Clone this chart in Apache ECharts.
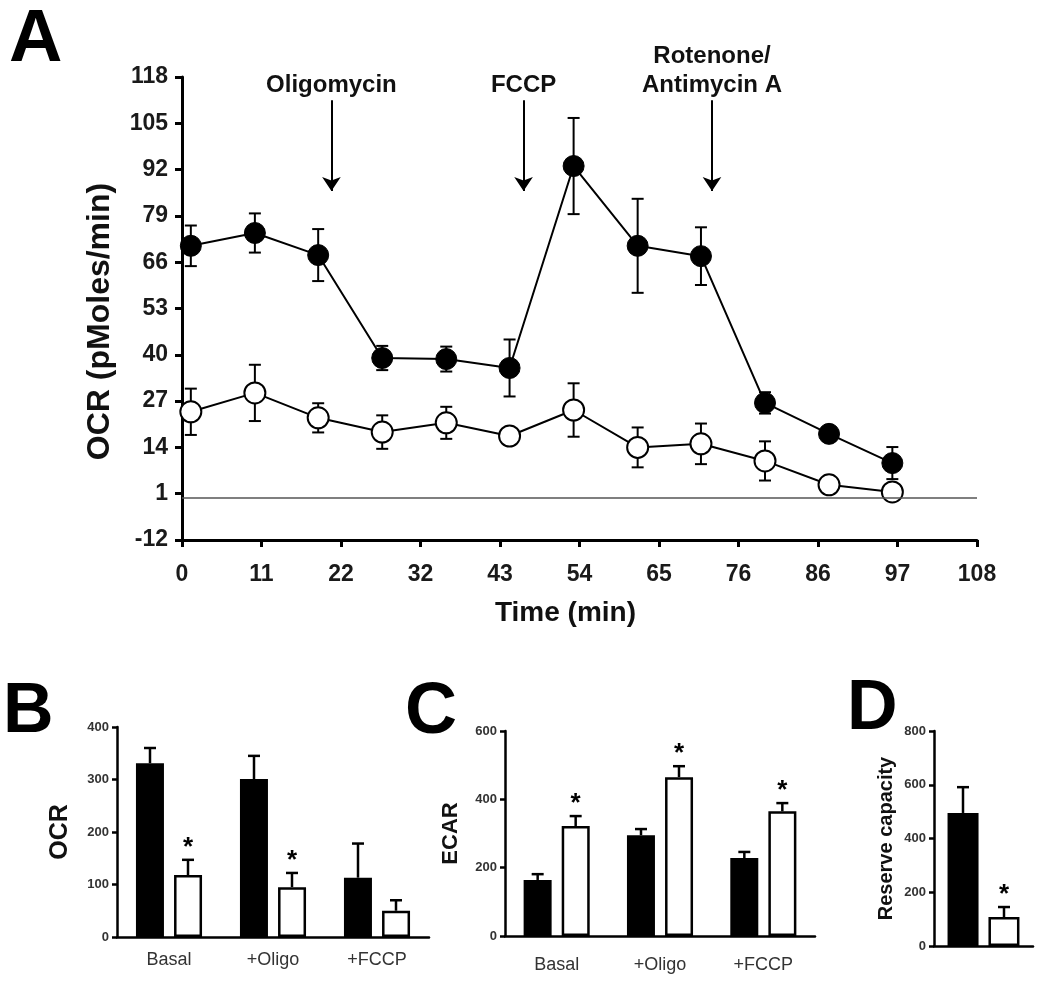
<!DOCTYPE html>
<html>
<head>
<meta charset="utf-8">
<script src="https://cdn.jsdelivr.net/npm/echarts@6/dist/echarts.min.js"></script>
<style>html,body{margin:0;padding:0;background:#fff}#c{width:1050px;height:987px}</style>
</head>
<body>
<div id="c"></div>
<script>
// ---------- Panel A data ----------
const timeA = [1.2, 9.9, 18.5, 27.2, 35.9, 44.5, 53.2, 61.9, 70.5, 79.2, 87.9, 96.5];
const ocrFilled = [70.6, 74.2, 68.0, 39.1, 38.8, 36.3, 93.0, 70.6, 67.7, 26.5, 17.8, 9.6];
const ocrFilledErr = [5.7, 5.5, 7.3, 3.4, 3.5, 8.0, 13.5, 13.2, 8.1, 3.0, 1.5, 4.5];
const ocrOpen = [24.0, 29.3, 22.3, 18.3, 20.9, 17.2, 24.5, 14.0, 15.0, 10.2, 3.5, 1.5];
const ocrOpenErr = [6.5, 7.9, 4.1, 4.7, 4.5, 1.5, 7.5, 5.6, 5.7, 5.5, 2.5, 1.5];
const treatments = ['Oligomycin', 'FCCP', 'Rotenone/\nAntimycin A'];
const treatmentTimes = [20.3, 46.4, 72.0];
const arrowTop = 111.5, arrowTip = 86;
const xTicksA = {min: 0, max: 108, interval: 10.8};
const yTicksA = {min: -12, max: 118, interval: 13};

// ---------- Panel B data ----------
const categoriesB = ['Basal', '+Oligo', '+FCCP'];
const ocrBlackB = [331, 301, 113];
const ocrBlackErrB = [29, 44, 65];
const ocrWhiteB = [118, 95, 50];
const ocrWhiteErrB = [29, 27, 20];
const sigB = [true, true, false];

// ---------- Panel C data ----------
const categoriesC = ['Basal', '+Oligo', '+FCCP'];
const ecarBlackC = [164, 295, 228];
const ecarBlackErrC = [17, 18, 18];
const ecarWhiteC = [322, 465, 365];
const ecarWhiteErrC = [29, 32, 24];
const sigC = [true, true, true];

// ---------- Panel D data ----------
const categoriesD = [''];
const reserveBlackD = [495];
const reserveBlackErrD = [96];
const reserveWhiteD = [108];
const reserveWhiteErrD = [37];
const sigD = [true];

const FONT = '"Liberation Sans", Arial, Helvetica, sans-serif';

function errA(vals, errs) {
  return vals.map((v, i) => [timeA[i], v - errs[i], v + errs[i]]);
}
function renderErrA(params, api) {
  const x = api.value(0);
  const top = api.coord([x, api.value(2)]);
  const bot = api.coord([x, api.value(1)]);
  const w = 6;
  const st = {stroke: '#000', lineWidth: 2};
  return {type: 'group', children: [
    {type: 'line', shape: {x1: top[0], y1: top[1], x2: bot[0], y2: bot[1]}, style: st},
    {type: 'line', shape: {x1: top[0] - w, y1: top[1], x2: top[0] + w, y2: top[1]}, style: st},
    {type: 'line', shape: {x1: bot[0] - w, y1: bot[1], x2: bot[0] + w, y2: bot[1]}, style: st}
  ]};
}
function errBarData(vals, errs, sig) {
  return vals.map((v, i) => [i, v, v + errs[i], sig ? (sig[i] ? 1 : 0) : 0]);
}
function makeRenderBarErr(offset) {
  return function (params, api) {
    const base = api.coord([api.value(0), api.value(1)]);
    const top = api.coord([api.value(0), api.value(2)]);
    const x = base[0] + offset;
    const w = 6;
    const st = {stroke: '#000', lineWidth: 2.5};
    const children = [
      {type: 'line', shape: {x1: x, y1: base[1], x2: x, y2: top[1]}, style: st},
      {type: 'line', shape: {x1: x - w, y1: top[1], x2: x + w, y2: top[1]}, style: st}
    ];
    if (api.value(3) === 1) {
      children.push({type: 'text', style: {text: '*', x: x, y: top[1] - 12, align: 'center', verticalAlign: 'middle',
        fontSize: 26, fontWeight: 'bold', fontFamily: FONT, fill: '#000'}});
    }
    return {type: 'group', children};
  };
}

const axisLineA = {show: true, onZero: false, lineStyle: {color: '#000', width: 3}};
const axisTickA = {show: true, inside: false, length: 7, lineStyle: {color: '#000', width: 3}};
const lblA = {fontSize: 23, fontWeight: 'bold', color: '#1a1a1a', fontFamily: FONT};

const axisLineBar = {show: true, onZero: false, lineStyle: {color: '#000', width: 2.5}};
const axisTickBar = {show: true, inside: false, length: 5, lineStyle: {color: '#000', width: 2.5}};
const lblBarY = {fontSize: 13, fontWeight: 'bold', color: '#333', fontFamily: FONT, margin: 8};
const lblBarX = {fontSize: 18, color: '#333', fontFamily: FONT};

function barY(gridIndex, max, interval, name, nameGap, nameSize) {
  return {type: 'value', gridIndex, min: 0, max, interval,
    axisLine: axisLineBar, axisTick: axisTickBar, splitLine: {show: false}, axisLabel: lblBarY,
    name, nameLocation: 'middle', nameRotate: 90, nameGap,
    nameTextStyle: {fontSize: nameSize, fontWeight: 'bold', color: '#111', fontFamily: FONT}};
}
function barX(gridIndex, data, margin) {
  return {type: 'category', gridIndex, data, axisLine: axisLineBar, axisTick: {show: false},
    axisLabel: Object.assign({margin}, lblBarX), splitLine: {show: false}};
}
function barSeries(xi, yi, data, white, width, gap) {
  return {type: 'bar', xAxisIndex: xi, yAxisIndex: yi, data, barWidth: width, barGap: gap, silent: true,
    itemStyle: white ? {color: '#fff', borderColor: '#000', borderWidth: 2.5} : {color: '#000'}, z: 2};
}
function errSeries(xi, yi, data, offset) {
  return {type: 'custom', xAxisIndex: xi, yAxisIndex: yi, data, renderItem: makeRenderBarErr(offset), silent: true, z: 1,
    encode: {x: 0, y: [1, 2]}};
}

const chart = echarts.init(document.getElementById('c'), null, {renderer: 'canvas'});
chart.setOption({
  animation: false,
  backgroundColor: '#fff',
  textStyle: {fontFamily: FONT},
  title: [
    {text: 'A', left: 9, top: 4, padding: 0, textStyle: {fontSize: 74, fontWeight: 'bold', color: '#000', fontFamily: FONT}},
    {text: 'B', left: 3, top: 678, padding: 0, textStyle: {fontSize: 70, fontWeight: 'bold', color: '#000', fontFamily: FONT}},
    {text: 'C', left: 405, top: 677, padding: 0, textStyle: {fontSize: 72, fontWeight: 'bold', color: '#000', fontFamily: FONT}},
    {text: 'D', left: 847, top: 675, padding: 0, textStyle: {fontSize: 70, fontWeight: 'bold', color: '#000', fontFamily: FONT}}
  ],
  grid: [
    {left: 182, top: 77, width: 795, height: 463},
    {left: 117, top: 727, width: 312, height: 210},
    {left: 505, top: 731, width: 310, height: 205},
    {left: 934, top: 731, width: 99, height: 215}
  ],
  xAxis: [
    {type: 'value', gridIndex: 0, min: xTicksA.min, max: xTicksA.max, interval: xTicksA.interval,
      axisLine: axisLineA, axisTick: axisTickA, splitLine: {show: false},
      axisLabel: Object.assign({margin: 23, formatter: v => String(Math.round(v))}, lblA),
      name: 'Time (min)', nameLocation: 'middle', nameGap: 59,
      nameTextStyle: {fontSize: 28, fontWeight: 'bold', color: '#111', fontFamily: FONT, padding: [0, 28, 0, 0]}},
    barX(1, categoriesB, 14),
    barX(2, categoriesC, 20),
    Object.assign(barX(3, categoriesD, 10), {axisLabel: {show: false}})
  ],
  yAxis: [
    {type: 'value', gridIndex: 0, show: false, min: yTicksA.min, max: yTicksA.max},
    {type: 'value', gridIndex: 0, position: 'left', min: 0, max: yTicksA.max - yTicksA.min, interval: yTicksA.interval,
      axisLine: axisLineA, axisTick: axisTickA, splitLine: {show: false},
      axisLabel: Object.assign({margin: 14, formatter: v => String(Math.round(v + yTicksA.min))}, lblA),
      name: 'OCR (pMoles/min)', nameLocation: 'middle', nameRotate: 90, nameGap: 66,
      nameTextStyle: {fontSize: 32, fontWeight: 'bold', color: '#111', fontFamily: FONT, padding: [0, 26, 0, 0]}},
    barY(1, 400, 100, 'OCR', 44, 25),
    barY(2, 600, 200, 'ECAR', 43, 22),
    barY(3, 800, 200, 'Reserve capacity', 38, 20)
  ],
  series: [
    // Panel A error bars
    {type: 'custom', xAxisIndex: 0, yAxisIndex: 0, data: errA(ocrFilled, ocrFilledErr), renderItem: renderErrA, z: 1, silent: true, encode: {x: 0, y: [1, 2]}},
    {type: 'custom', xAxisIndex: 0, yAxisIndex: 0, data: errA(ocrOpen, ocrOpenErr), renderItem: renderErrA, z: 1, silent: true, encode: {x: 0, y: [1, 2]}},
    // Panel A lines
    {type: 'line', xAxisIndex: 0, yAxisIndex: 0, data: timeA.map((t, i) => [t, ocrFilled[i]]), z: 3,
      symbol: 'circle', symbolSize: 21, silent: true,
      itemStyle: {color: '#000', borderColor: '#000', borderWidth: 1}, lineStyle: {color: '#000', width: 2},
      markLine: {silent: true, symbol: ['none', 'none'], label: {show: false},
        lineStyle: {color: '#555', width: 1.5, type: 'solid'}, data: [{yAxis: 0}]}},
    {type: 'line', xAxisIndex: 0, yAxisIndex: 0, data: timeA.map((t, i) => [t, ocrOpen[i]]), z: 4,
      symbol: 'circle', symbolSize: 21, silent: true,
      itemStyle: {color: '#fff', borderColor: '#000', borderWidth: 2}, lineStyle: {color: '#000', width: 2},
      markLine: {silent: true, symbol: ['none', 'arrow'], symbolSize: 14,
        itemStyle: {color: '#000'},
        lineStyle: {color: '#000', width: 2, type: 'solid'},
        label: {show: true, position: 'start', distance: 0, formatter: p => p.name,
          fontSize: 24, fontWeight: 'bold', color: '#111', fontFamily: FONT, lineHeight: 29},
        data: treatments.map((n, i) => [{name: n, coord: [treatmentTimes[i], arrowTop]}, {coord: [treatmentTimes[i], arrowTip]}])}},
    // Panel B
    barSeries(1, 2, ocrBlackB, false, 28, '36%'),
    barSeries(1, 2, ocrWhiteB, true, 28, '36%'),
    errSeries(1, 2, errBarData(ocrBlackB, ocrBlackErrB, null), -19),
    errSeries(1, 2, errBarData(ocrWhiteB, ocrWhiteErrB, sigB), 19),
    // Panel C
    barSeries(2, 3, ecarBlackC, false, 28, '36%'),
    barSeries(2, 3, ecarWhiteC, true, 28, '36%'),
    errSeries(2, 3, errBarData(ecarBlackC, ecarBlackErrC, null), -19),
    errSeries(2, 3, errBarData(ecarWhiteC, ecarWhiteErrC, sigC), 19),
    // Panel D
    barSeries(3, 4, reserveBlackD, false, 31, '32%'),
    barSeries(3, 4, reserveWhiteD, true, 31, '32%'),
    errSeries(3, 4, errBarData(reserveBlackD, reserveBlackErrD, null), -20.5),
    errSeries(3, 4, errBarData(reserveWhiteD, reserveWhiteErrD, sigD), 20.5)
  ]
});
</script>
</body>
</html>
